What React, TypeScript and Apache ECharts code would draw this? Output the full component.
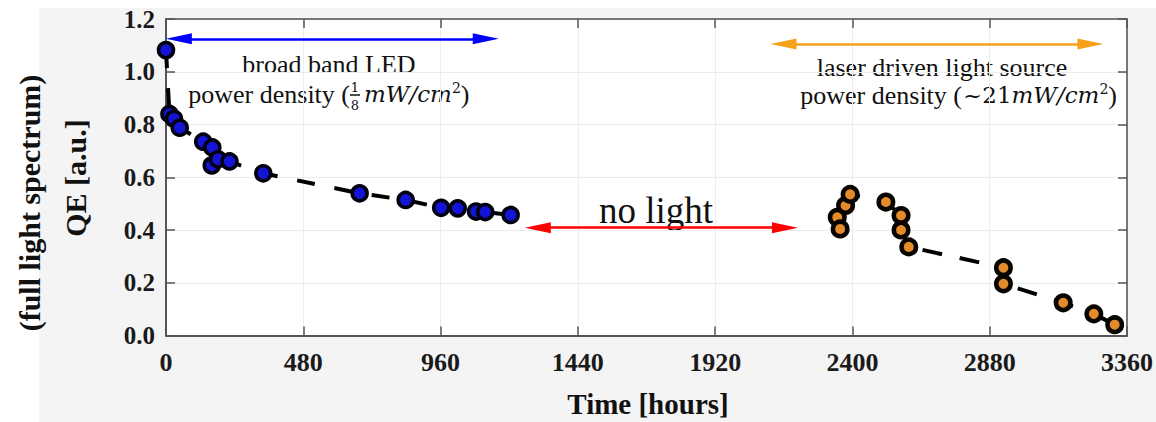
import React, { useEffect, useRef } from "react";
import * as echarts from "echarts";

// ---- data ----
const xTicks = [0, 480, 960, 1440, 1920, 2400, 2880, 3360];
const yTicks = [0, 0.2, 0.4, 0.6, 0.8, 1.0, 1.2];

const ledHours = [0, 12, 28, 48, 130, 162, 160, 182, 222, 340, 677, 838, 962, 1020, 1084, 1116, 1205];
const ledQE = [1.082, 0.84, 0.822, 0.788, 0.735, 0.713, 0.645, 0.668, 0.66, 0.615, 0.539, 0.514, 0.484, 0.482, 0.47, 0.468, 0.457];

const laserHours = [2347, 2357, 2376, 2392, 2517, 2570, 2570, 2597, 2928, 2928, 3137, 3244, 3317];
const laserQE = [0.448, 0.404, 0.493, 0.535, 0.506, 0.455, 0.4, 0.336, 0.257, 0.196, 0.124, 0.082, 0.041];

// arrow shafts (hours, QE) – arrow heads are added at both ends
const ledArrowX = [45, 1118];
const ledArrowY = 1.125;
const laserArrowX = [2159, 3232];
const laserArrowY = 1.105;
const darkArrowX = [1300, 2164];
const darkArrowY = 0.409;

const SERIF = "Liberation Serif";
const MATH = "DejaVu Serif";

function pairs(xs: number[], ys: number[]) {
  return xs.map((x, i) => [x, ys[i]]);
}

function arrowSeries(xs: number[], y: number, color: string) {
  return {
    type: "line",
    data: [],
    silent: true,
    markLine: {
      silent: true,
      symbol: ["triangle", "triangle"],
      symbolSize: [11, 26],
      label: { show: false },
      lineStyle: { color, width: 2.5, type: "solid" },
      emphasis: { disabled: true },
      data: [[{ coord: [xs[0], y] }, { coord: [xs[1], y] }]],
    },
  };
}

function txt(x: number, y: number, text: string, size: number, opts: any = {}) {
  return {
    type: "text",
    x,
    y,
    rotation: opts.rotation || 0,
    style: {
      text,
      fontFamily: opts.family || SERIF,
      fontSize: size,
      fontWeight: opts.weight || "normal",
      fontStyle: opts.style || "normal",
      fill: "#111",
      align: opts.align || "center",
      verticalAlign: "middle",
      rich: opts.rich,
    },
  };
}

export default function App() {
  const ref = useRef<HTMLDivElement>(null);

  useEffect(() => {
    if (!ref.current) return;
    const chart = echarts.init(ref.current, undefined, { renderer: "svg" });

    const axisLabelFont = {
      fontFamily: SERIF,
      fontWeight: "bold" as const,
      color: "#1a1a1a",
    };
    const tickStyle = { show: true, inside: true, length: 9, lineStyle: { color: "#555", width: 1.5 } };

    const mathRich = {
      u: { fontFamily: MATH, fontSize: 23, fill: "#111" },
      i: { fontFamily: MATH, fontStyle: "italic", fontSize: 23, fill: "#111" },
      s: { fontFamily: MATH, fontSize: 14, fill: "#111", verticalAlign: "top" },
      n: { fontFamily: SERIF, fontSize: 26, fill: "#111" },
    };

    const option: any = {
      animation: false,
      grid: {
        left: 166,
        top: 19,
        width: 963,
        height: 316.5,
        show: true,
        backgroundColor: "#ffffff",
        borderWidth: 0,
      },
      xAxis: [
        {
          type: "value",
          min: xTicks[0],
          max: xTicks[xTicks.length - 1],
          interval: xTicks[1] - xTicks[0],
          position: "bottom",
          axisLine: { show: true, onZero: false, lineStyle: { color: "#555", width: 2 } },
          axisTick: tickStyle,
          splitLine: { show: true, lineStyle: { color: "#ececec", width: 1 } },
          axisLabel: { ...axisLabelFont, fontSize: 26, margin: 14, formatter: (v: number) => String(v) },
        },
        {
          type: "value",
          min: xTicks[0],
          max: xTicks[xTicks.length - 1],
          interval: xTicks[1] - xTicks[0],
          position: "top",
          axisLine: { show: true, onZero: false, lineStyle: { color: "#777", width: 2 } },
          axisTick: tickStyle,
          splitLine: { show: false },
          axisLabel: { show: false },
        },
      ],
      yAxis: [
        {
          type: "value",
          min: yTicks[0],
          max: yTicks[yTicks.length - 1],
          interval: 0.2,
          position: "left",
          axisLine: { show: true, onZero: false, lineStyle: { color: "#555", width: 2 } },
          axisTick: tickStyle,
          splitLine: { show: true, lineStyle: { color: "#ececec", width: 1 } },
          axisLabel: {
            ...axisLabelFont,
            fontSize: 25,
            margin: 11,
            formatter: (v: number) => v.toFixed(1),
          },
        },
        {
          type: "value",
          min: yTicks[0],
          max: yTicks[yTicks.length - 1],
          interval: 0.2,
          position: "right",
          axisLine: { show: true, onZero: false, lineStyle: { color: "#777", width: 2 } },
          axisTick: tickStyle,
          splitLine: { show: false },
          axisLabel: { show: false },
        },
      ],
      series: [
        {
          type: "line",
          data: pairs(ledHours, ledQE),
          symbol: "circle",
          symbolSize: 15,
          lineStyle: { color: "#000", width: 4, type: [18, 20] },
          itemStyle: { color: "#1414d6", borderColor: "#00000e", borderWidth: 3.5 },
          z: 3,
        },
        {
          type: "line",
          data: pairs(laserHours, laserQE),
          symbol: "circle",
          symbolSize: 14.5,
          lineStyle: { color: "#000", width: 4, type: [20, 18] },
          itemStyle: { color: "#e58c2a", borderColor: "#080400", borderWidth: 4.5 },
          z: 3,
        },
        arrowSeries(ledArrowX, ledArrowY, "#0000ff"),
        arrowSeries(laserArrowX, laserArrowY, "#f7a11a"),
        arrowSeries(darkArrowX, darkArrowY, "#ff0000"),
      ],
      graphic: [
        // y axis titles
        txt(29, 203, "(full light spectrum)", 30, { weight: "bold", rotation: Math.PI / 2 }),
        txt(75, 178, "QE [a.u.]", 30, { weight: "bold", rotation: Math.PI / 2 }),
        // x axis title
        txt(648, 404, "Time [hours]", 29, { weight: "bold" }),
        // LED annotation
        txt(329, 64, "broad band LED", 26),
        txt(350, 94, "power density (", 26, { align: "right" }),
        txt(355, 87, "1", 13, { family: MATH }),
        {
          type: "line",
          shape: { x1: 350, y1: 95, x2: 360, y2: 95 },
          style: { stroke: "#111", lineWidth: 1.5 },
        },
        txt(355, 105, "8", 13, { family: MATH }),
        txt(364, 94, "{i|mW/cm}{s|2}{n|)}", 23, { align: "left", family: MATH, rich: mathRich }),
        // laser annotation
        txt(942, 67, "laser driven light source", 26),
        txt(962, 95, "power density (", 26, { align: "right" }),
        txt(963, 95, "{u|~21}{i|mW/cm}{s|2}{n|)}", 23, { align: "left", family: MATH, rich: mathRich }),
        // no light
        txt(656, 210, "no light", 37),
      ],
    };

    chart.setOption(option);
    return () => chart.dispose();
  }, []);

  return (
    <div style={{ position: "absolute", left: 0, top: 0, width: 1156, height: 422, background: "#ffffff" }}>
      <div
        style={{ position: "absolute", left: 39, top: 8, width: 1117, height: 414, background: "#f4f4f4" }}
      />
      <div ref={ref} style={{ position: "absolute", left: 0, top: 0, width: 1156, height: 422 }} />
    </div>
  );
}
